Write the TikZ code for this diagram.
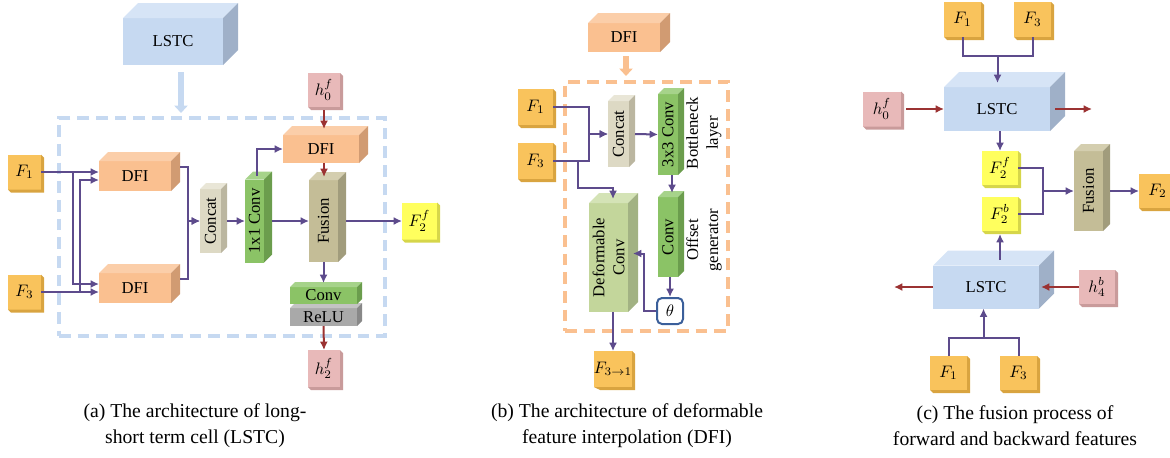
\documentclass[tikz,border=0pt]{standalone}
\usepackage{fontspec}
\setmainfont{Liberation Serif}
\usepackage{tikz}
\usetikzlibrary{arrows.meta,calc,positioning}

% block colours: F = front, T = top, S = side
\definecolor{blueF}{HTML}{C6D9F1}\definecolor{blueT}{HTML}{D6E4F6}\definecolor{blueS}{HTML}{9FB0C8}
\definecolor{salmonF}{HTML}{FAC090}\definecolor{salmonT}{HTML}{FBCEA9}\definecolor{salmonS}{HTML}{D19B72}
\definecolor{beigeF}{HTML}{DDD9C4}\definecolor{beigeT}{HTML}{E9E6D7}\definecolor{beigeS}{HTML}{BBB6A0}
\definecolor{greenF}{HTML}{8BC366}\definecolor{greenT}{HTML}{A6D38A}\definecolor{greenS}{HTML}{6B9D4D}
\definecolor{khakiF}{HTML}{C4BD97}\definecolor{khakiT}{HTML}{D4CEAF}\definecolor{khakiS}{HTML}{A19C7C}
\definecolor{grayF}{HTML}{A9A9A9}\definecolor{grayT}{HTML}{C3C3C3}\definecolor{grayS}{HTML}{888888}
\definecolor{lgreenF}{HTML}{C3D69B}\definecolor{lgreenT}{HTML}{D4E3B6}\definecolor{lgreenS}{HTML}{A2B283}
\definecolor{forangeF}{HTML}{F9C35C}\definecolor{forangeS}{HTML}{D9A440}
\definecolor{pinkF}{HTML}{E8B9B9}\definecolor{pinkS}{HTML}{C99B9B}
\definecolor{yelF}{HTML}{FFFF5E}\definecolor{yelS}{HTML}{D6D64A}
\definecolor{flowc}{HTML}{5D4B8C}
\definecolor{hidc}{HTML}{9B3232}
\definecolor{thetac}{HTML}{3B5F9A}

\def\pxu{0.6pt}

% 3-D block: name, centre, width, height, depth, colour, label options, label
\newcommand{\cube}[8]{%
  \node[face, fill=#6F, minimum width=#3*\pxu, minimum height=#4*\pxu] (#1) at (#2) {};
  \fill[#6T] (#1.north west) -- ++(#5,-#5) -- ++(#3,0) -- (#1.north east) -- cycle;
  \fill[#6S] (#1.north east) -- ++(#5,-#5) -- ++(0,#4) -- (#1.south east) -- cycle;
  \node[#7] at (#1) {#8};
}
% flat tile with a small bevel: name, centre, width, height, colour, label
\newcommand{\tile}[6]{%
  \node[face, fill=#5F, minimum width=#3*\pxu, minimum height=#4*\pxu] (#1) at (#2) {#6};
  \fill[#5S] (#1.north east) -- ++(3,3) -- ++(0,#4) -- ++(-#3,0) -- (#1.south west) -- (#1.south east) -- cycle;
}

\begin{document}
\begin{tikzpicture}[
    x=0.6pt, y=-0.6pt,
    face/.style={inner sep=0pt, outer sep=0pt},
    flow/.style={draw=flowc, line width=1.2pt, -{Latex[length=5pt,width=4.8pt]}},
    flowline/.style={draw=flowc, line width=1.2pt},
    hflow/.style={draw=hidc, line width=1.2pt, -{Latex[length=5pt,width=4.8pt]}},
    bigarrow/.style={line width=3.6pt, -{Triangle[length=4.5pt,width=8pt]}},
    dashbox/.style={face, line width=2pt, dash pattern=on 7pt off 4.2pt},
    vlbl/.style={rotate=90},
    sidelbl/.style={rotate=90, align=center},
    thetabox/.style={draw=thetac, line width=1.2pt, rounded corners=3pt, fill=white,
                     minimum width=26*\pxu, minimum height=26*\pxu, inner sep=0pt},
    captxt/.style={align=center, font=\fontsize{11.8}{15.6}\selectfont}
]
\useasboundingbox (0,0) rectangle (1170,457);

% (a) long-short term cell
\node[dashbox, draw=blueF, minimum width=326*\pxu, minimum height=218*\pxu] (cellA) at (222,227) {};
\cube{lstcA}{173,41.5}{100}{47}{15}{blue}{}{LSTC}
\draw[bigarrow, draw=blueF] ($(lstcA.south)+(8,7)$) -- ($(lstcA.south |- cellA.north)+(8,-5)$);

\tile{F1a}{24.5,172}{33}{35}{forange}{$F_1$}
\tile{F3a}{24.5,292}{33}{35}{forange}{$F_3$}
\cube{dfiA1}{135,176}{72}{30}{9}{salmon}{}{DFI}
\cube{dfiA2}{135,288}{72}{30}{9}{salmon}{}{DFI}
\cube{catA}{210.5,221}{21}{64}{6}{beige}{vlbl}{Concat}
\cube{convA}{254.5,221}{19}{83}{8}{green}{vlbl}{1x1 Conv}
\cube{dfiA3}{321,149}{76}{28}{9}{salmon}{}{DFI}
\cube{fusA}{323.5,221}{29}{82}{8}{khaki}{vlbl}{Fusion}
\cube{reluA}{323.5,317}{67}{18}{5}{gray}{}{ReLU}
\cube{cvA}{323.5,295.5}{67}{17}{5}{green}{}{Conv}
\tile{h0A}{324,90}{32}{34}{pink}{$h_0^f$}
\tile{h2A}{324,368.5}{32}{37}{pink}{$h_2^f$}
\tile{F2fA}{419.5,221}{35}{37}{yel}{$F_2^f$}

\draw[flow] (F1a.east) -- ($(dfiA1.west)+(0,-4)$);
\draw[flow] (F1a.east) -- ++(32,0) |- ($(dfiA2.west)+(0,-4)$);
\draw[flow] (F3a.east) -- ($(dfiA2.west)+(0,4)$);
\draw[flow] (F3a.east) -- ++(39,0) |- ($(dfiA1.west)+(0,4)$);
\draw[flow] ($(dfiA1.east)+(9,-9)$) -- ++(8,0) |- (catA.west);
\draw[flow] ($(dfiA2.east)+(9,-9)$) -- ++(8,0) |- (catA.west);
\draw[flow] ($(catA.east)+(6,0)$) -- (convA.west);
\draw[flow] ($(convA.north)+(2,-4)$) |- (dfiA3.west);
\draw[flow] ($(convA.east)+(8,0)$) -- (fusA.west);
\draw[hflow] ($(h0A.south)+(0,3)$) -- ($(h0A.south |- dfiA3.north)+(0,-6)$);
\draw[hflow] (h0A.south |- dfiA3.south) -- ($(h0A.south |- fusA.north)+(0,-3)$);
\draw[flow] (fusA.south) -- ($(cvA.north)+(0,-4)$);
\draw[hflow] (reluA.south) -- (h2A.north);
\draw[flow] ($(fusA.east)+(8,0)$) -- (F2fA.west);

\node[captxt] (capA) at (195,426) {(a) The architecture of long-\\short term cell (LSTC)};

% (b) deformable feature interpolation
\node[dashbox, draw=salmonF, minimum width=163*\pxu, minimum height=249*\pxu] (cellB) at (646.5,206.5) {};
\cube{dfiB}{624,37.5}{72}{29}{10}{salmon}{}{DFI}
\draw[bigarrow, draw=salmonF] ($(dfiB.south)+(2,4)$) -- ($(dfiB.south |- cellB.north)+(2,-6)$);

\tile{F1b}{535.5,107}{35}{36}{forange}{$F_1$}
\tile{F3b}{535.5,161}{35}{36}{forange}{$F_3$}
\cube{catB}{618.5,134}{21}{66}{6}{beige}{vlbl}{Concat}
\cube{cv3B}{668,134.5}{20}{81}{6}{green}{vlbl}{3x3 Conv}
\cube{defB}{608.5,257.5}{39}{109}{10}{lgreen}{vlbl, align=center}{Deformable\\Conv}
\cube{offB}{668,237}{20}{80}{6}{green}{vlbl}{Conv}
\node[thetabox] (thetaB) at (670,311) {$\theta$};
\tile{F31B}{613,369}{35}{36}{forange}{$F_{3\to1}$}
\node[sidelbl] (bneck) at (704,133) {Bottleneck\\layer};
\node[sidelbl] (offgen) at (704,240) {Offset\\generator};

\draw[flow] (F1b.east) -- ++(36,0) |- (catB.west);
\draw[flow] (F3b.east) -- ++(36,0) |- (catB.west);
\draw[flow] ($(F3b.east)+(25,0)$) -- ++(0,27) -| ($(defB.north)+(4.5,-4)$);
\draw[flow] ($(catB.east)+(6,0)$) -- (cv3B.west);
\draw[flow] ($(cv3B.south)+(4,0)$) -- ($(offB.north)+(4,-4)$);
\draw[flow] (offB.south -| thetaB.north) -- (thetaB.north);
\draw[flow] (thetaB.west) -- ++(-12,0) |- ($(defB.east)+(5,-4)$);
\draw[flow] (defB.south -| F31B.north) -- (F31B.north);

\node[captxt] (capB) at (627,426) {(b) The architecture of deformable\\feature interpolation (DFI)};

% (c) fusion of forward and backward features
\tile{F1c}{962.5,19.5}{37}{35}{forange}{$F_1$}
\tile{F3c}{1032.5,19.5}{37}{35}{forange}{$F_3$}
\cube{lstcC}{997,109}{106}{44}{15}{blue}{}{LSTC}
\tile{h0C}{882,109}{38}{35}{pink}{$h_0^f$}
\tile{F2fC}{1000,168}{36}{34}{yel}{$F_2^f$}
\tile{F2bC}{1000,214}{36}{34}{yel}{$F_2^b$}
\cube{fusC}{1088.5,191}{29}{80}{7}{khaki}{vlbl}{Fusion}
\tile{F2C}{1157.5,191}{37}{34}{forange}{$F_2$}
\cube{lstcD}{986,287}{106}{43}{15}{blue}{}{LSTC}
\tile{h4D}{1097,287}{36}{34}{pink}{$h_4^b$}
\tile{F1d}{948.5,373}{37}{34}{forange}{$F_1$}
\tile{F3d}{1018.5,373}{37}{34}{forange}{$F_3$}

\draw[flowline] (F1c.south) -- ++(0,19) -| (F3c.south);
\coordinate (jC) at ($(F1c.south)!0.5!(F3c.south)+(0,19)$);
\draw[flow] (jC) -- ($(jC |- lstcC.north)+(0,-4)$);
\draw[hflow] ($(h0C.east)+(5,0)$) -- (lstcC.west);
\draw[hflow] ($(lstcC.east)+(5,0)$) -- ++(37,0);
\draw[flow] (lstcC.south -| F2fC.north) -- (F2fC.north);
\draw[flowline] (F2fC.east) -- ++(25,0) |- (F2bC.east);
\draw[flow] ($(F2fC.east)!0.5!(F2bC.east)+(25,0)$) -- (fusC.west);
\draw[flow] ($(fusC.east)+(7,0)$) -- (F2C.west);
\draw[flow] ($(F2bC.south |- lstcD.north)+(0,-6)$) -- ($(F2bC.south)+(0,3)$);
\draw[hflow] (h4D.west) -- ($(lstcD.east)+(2,0)$);
\draw[hflow] (lstcD.west) -- ++(-39,0);
\draw[flowline] (F1d.north) -- ++(0,-18) -| (F3d.north);
\coordinate (jD) at ($(F1d.north)!0.5!(F3d.north)+(0,-18)$);
\draw[flow] (jD) -- (jD |- lstcD.south);

\node[captxt] (capC) at (1015,426) {(c) The fusion process of\\forward and backward features};
\end{tikzpicture}
\end{document}
